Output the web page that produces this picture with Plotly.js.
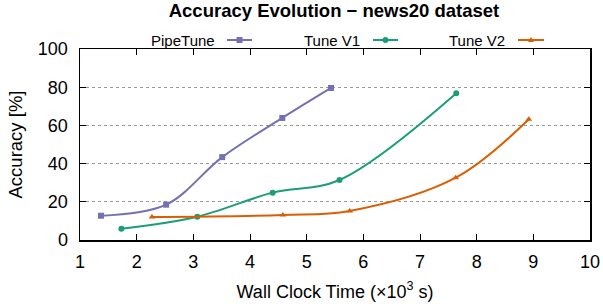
<!DOCTYPE html>
<html>
<head>
<meta charset="utf-8">
<script src="https://cdn.plot.ly/plotly-3.0.1.min.js"></script>
<style>html,body{margin:0;padding:0;background:#fff}#chart{width:603px;height:304px}</style>
</head>
<body>
<div id="chart"></div>
<script>
// Data (time in 10^3 s, accuracy in %)
const pipeTuneX = [1.37, 2.52, 3.51, 4.57, 5.43];
const pipeTuneY = [12.7, 18.5, 43.4, 63.9, 79.6];
const tuneV1X = [1.73, 3.07, 4.40, 5.58, 7.64];
const tuneV1Y = [5.9, 12.2, 24.8, 31.4, 76.8];
const tuneV2X = [2.27, 4.58, 5.76, 7.63, 8.92];
const tuneV2Y = [12.0, 13.1, 15.2, 32.6, 63.2];
const seriesNames = ["PipeTune", "Tune V1", "Tune V2"];
const seriesColors = ["#7570b3", "#1b9e77", "#d95f02"];
const xTicks = [1, 2, 3, 4, 5, 6, 7, 8, 9, 10];
const yTicks = [0, 20, 40, 60, 80, 100];

const font = "Liberation Sans, Arial, Helvetica, sans-serif";

function trace(x, y, i, symbol, size) {
  return {
    x: x, y: y, name: seriesNames[i], type: "scatter", mode: "lines+markers",
    line: {color: seriesColors[i], width: 2, shape: "spline", smoothing: 1},
    marker: {color: seriesColors[i], symbol: symbol, size: size},
    showlegend: false, cliponaxis: false
  };
}

const data = [
  trace(pipeTuneX, pipeTuneY, 0, "square", 6),
  trace(tuneV1X, tuneV1Y, 1, "circle", 6),
  trace(tuneV2X, tuneV2Y, 2, "triangle-up", 6)
];

// legend drawn gnuplot-style (text then sample)
const L = 80, R = 590, T = 49, B = 240;
const px = v => (v - L) / (R - L);
const py = v => (B - v) / (B - T);
const legY = 40;
const legend = [
  {textEnd: 217, l0: 227, l1: 252},
  {textEnd: 362, l0: 373, l1: 398},
  {textEnd: 507, l0: 518, l1: 544}
];
const annotations = [];
const shapes = [];
legend.forEach((g, i) => {
  annotations.push({xref: "paper", yref: "paper", x: px(g.textEnd), y: py(legY),
    xanchor: "right", yanchor: "middle", text: seriesNames[i], showarrow: false,
    font: {family: font, size: 15, color: "#000"}});
  shapes.push({type: "line", xref: "paper", yref: "paper", x0: px(g.l0), x1: px(g.l1),
    y0: py(legY), y1: py(legY), line: {color: seriesColors[i], width: 2}});
  const cx = (g.l0 + g.l1) / 2, cy = legY;
  if (i === 0) {
    shapes.push({type: "rect", xref: "paper", yref: "paper", x0: px(cx - 3), x1: px(cx + 3),
      y0: py(cy + 3), y1: py(cy - 3), fillcolor: seriesColors[i], line: {width: 0}});
  } else if (i === 1) {
    shapes.push({type: "circle", xref: "paper", yref: "paper", x0: px(cx - 3), x1: px(cx + 3),
      y0: py(cy + 3), y1: py(cy - 3), fillcolor: seriesColors[i], line: {width: 0}});
  } else {
    shapes.push({type: "path", xref: "paper", yref: "paper",
      path: `M ${px(cx - 3)} ${py(cy + 2)} L ${px(cx + 3)} ${py(cy + 2)} L ${px(cx)} ${py(cy - 3)} Z`,
      fillcolor: seriesColors[i], line: {width: 0}});
  }
});

const layout = {
  width: 603, height: 304,
  margin: {l: L, r: 603 - R, t: T, b: 304 - B},
  paper_bgcolor: "#fff", plot_bgcolor: "#fff",
  font: {family: font, size: 18, color: "#000"},
  title: {text: "<b>Accuracy Evolution − news20 dataset</b>", x: px(334), xref: "paper",
    xanchor: "center", y: 1 - 11 / 304, yanchor: "middle",
    font: {family: font, size: 18.5, color: "#000"}},
  xaxis: {
    range: [1, 10], tickvals: xTicks, ticktext: xTicks.map(String),
    ticks: "inside", ticklen: 6, tickwidth: 1, tickcolor: "#000",
    showline: true, linecolor: "#000", linewidth: 1.5, mirror: "allticks",
    showgrid: false, zeroline: false, ticklabelstandoff: 5,
    tickfont: {family: font, size: 18},
    title: {text: "Wall Clock Time (×10<sup>3</sup> s)", font: {family: font, size: 18}, standoff: 14}
  },
  yaxis: {
    range: [0, 100], tickvals: yTicks, ticktext: yTicks.map(String),
    ticks: "inside", ticklen: 6, tickwidth: 1, tickcolor: "#000",
    showline: true, linecolor: "#000", linewidth: 1.5, mirror: "allticks",
    showgrid: true, gridcolor: "#999", gridwidth: 1, griddash: "dot", zeroline: false,
    ticklabelstandoff: 7,
    tickfont: {family: font, size: 18},
    title: {text: "Accuracy [%]", font: {family: font, size: 18.5}, standoff: 10}
  },
  annotations: annotations,
  shapes: shapes
};

Plotly.newPlot("chart", data, layout, {displayModeBar: false, staticPlot: true});
</script>
</body>
</html>
